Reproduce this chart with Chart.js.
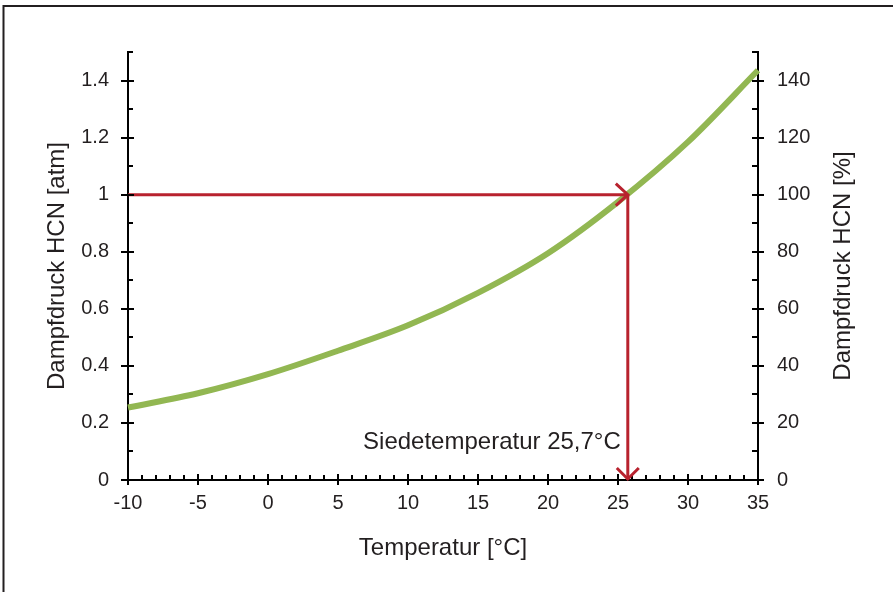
<!DOCTYPE html>
<html lang="de">
<head>
<meta charset="utf-8">
<title>Dampfdruck HCN</title>
<script src="https://cdn.jsdelivr.net/npm/chart.js@4.4.1/dist/chart.umd.min.js"></script>
<style>
  html, body { margin: 0; padding: 0; background: #fff; }
  canvas { display: block; }
</style>
</head>
<body>
<canvas id="myChart" width="893" height="592"></canvas>
<script>
// Daten
const temperaturen = [-10, -5, 0, 5, 10, 15, 20, 25, 30, 35];
const dampfdruck = [0.254, 0.304, 0.371, 0.453, 0.542, 0.656, 0.795, 0.975, 1.185, 1.436];

const siedetemperatur = 25.7;
const siedeText = "Siedetemperatur 25,7°C";

const xTicks = [-10, -5, 0, 5, 10, 15, 20, 25, 30, 35];
const yTicksAtm = [0, 0.2, 0.4, 0.6, 0.8, 1, 1.2, 1.4];
const yTicksProzent = [0, 20, 40, 60, 80, 100, 120, 140];

const textFarbe = "#231f20";
const gruen = "#92b752";
const rot = "#b8222e";
const schrift = "'Liberation Sans', Arial, sans-serif";

// Rahmen, Tickmarks, Pfeilspitzen und Texte
const extras = {
    id: "extras",
    beforeDraw(chart) {
        const ctx = chart.ctx;
        ctx.save();
        ctx.strokeStyle = textFarbe;
        ctx.lineWidth = 2;
        ctx.beginPath();
        ctx.moveTo(3.5, 592);
        ctx.lineTo(3.5, 6);
        ctx.lineTo(893, 6);
        ctx.stroke();
        ctx.restore();
    },
    afterDraw(chart) {
        const ctx = chart.ctx;
        const x = chart.scales.x;
        const y = chart.scales.y;
        const y2 = chart.scales.y2;
        const area = chart.chartArea;
        ctx.save();
        ctx.strokeStyle = "#000";
        ctx.lineWidth = 2;
        ctx.beginPath();
        // x-Achse: kleine Ticks je 1, große je 5
        for (let v = -10; v <= 35; v++) {
            const px = Math.round(x.getPixelForValue(v));
            if (v % 5 === 0) {
                ctx.moveTo(px, area.bottom - 6);
                ctx.lineTo(px, area.bottom + 5);
            } else {
                ctx.moveTo(px, area.bottom - 5);
                ctx.lineTo(px, area.bottom);
            }
        }
        // linke Achse
        for (let i = 0; i <= 15; i++) {
            const py = Math.round(y.getPixelForValue(i / 10));
            if (i % 2 === 0 && i < 15) {
                ctx.moveTo(area.left - 7, py);
                ctx.lineTo(area.left + 6, py);
            } else {
                ctx.moveTo(area.left, py);
                ctx.lineTo(area.left + 5, py);
            }
        }
        // rechte Achse
        for (let i = 0; i <= 150; i += 10) {
            const py = Math.round(y2.getPixelForValue(i));
            if (i % 20 === 0 && i < 150) {
                ctx.moveTo(area.right - 6, py);
                ctx.lineTo(area.right + 6, py);
            } else {
                ctx.moveTo(area.right - 6, py);
                ctx.lineTo(area.right, py);
            }
        }
        ctx.stroke();

        // Pfeilspitzen
        const sx = x.getPixelForValue(siedetemperatur);
        const sy = y.getPixelForValue(1);
        const by = y.getPixelForValue(0);
        ctx.strokeStyle = rot;
        ctx.lineWidth = 3;
        ctx.beginPath();
        ctx.moveTo(sx - 12, sy - 11);
        ctx.lineTo(sx, sy);
        ctx.lineTo(sx - 12, sy + 11);
        ctx.moveTo(sx - 11, by - 12);
        ctx.lineTo(sx, by - 1);
        ctx.lineTo(sx + 11, by - 12);
        ctx.stroke();

        // Beschriftung Siedetemperatur
        ctx.fillStyle = textFarbe;
        ctx.font = "24px " + schrift;
        ctx.textAlign = "right";
        ctx.textBaseline = "alphabetic";
        ctx.fillText(siedeText, sx - 7, y.getPixelForValue(0.11));

        // rechter Achsentitel (von unten nach oben)
        ctx.translate(843, (area.top + area.bottom) / 2);
        ctx.rotate(-Math.PI / 2);
        ctx.textAlign = "center";
        ctx.textBaseline = "middle";
        ctx.fillText("Dampfdruck HCN [%]", 0, 0);
        ctx.restore();
    }
};

function fmt(v) {
    return String(+v.toFixed(1));
}

const config = {
    type: "line",
    data: {
        datasets: [
            {
                label: "Pfeil waagrecht",
                data: [{ x: -10, y: 1 }, { x: siedetemperatur, y: 1 }],
                borderColor: rot,
                borderWidth: 3,
                pointRadius: 0,
                order: 0
            },
            {
                label: "Pfeil senkrecht",
                data: [{ x: siedetemperatur, y: 1 }, { x: siedetemperatur, y: 0 }],
                borderColor: rot,
                borderWidth: 3,
                pointRadius: 0,
                order: 0
            },
            {
                label: "Dampfdruck HCN",
                data: temperaturen.map((t, i) => ({ x: t, y: dampfdruck[i] })),
                borderColor: gruen,
                borderWidth: 6,
                pointRadius: 0,
                cubicInterpolationMode: "monotone",
                order: 1
            }
        ]
    },
    options: {
        responsive: false,
        animation: false,
        clip: false,
        layout: { padding: { top: 52, left: 0, right: 0, bottom: 0 } },
        plugins: {
            legend: { display: false },
            tooltip: { enabled: false }
        },
        scales: {
            x: {
                type: "linear",
                min: -10,
                max: 35,
                afterFit: (s) => { s.height = 112; },
                afterBuildTicks: (s) => { s.ticks = xTicks.map((v) => ({ value: v })); },
                grid: { display: false, drawTicks: false },
                border: { display: true, color: "#000", width: 2 },
                ticks: {
                    color: textFarbe,
                    padding: 11,
                    maxRotation: 0,
                    font: { family: schrift, size: 20 },
                    callback: (v) => fmt(v)
                },
                title: {
                    display: true,
                    text: "Temperatur [°C]",
                    color: textFarbe,
                    padding: { top: 0, bottom: 29 },
                    font: { family: schrift, size: 24 }
                }
            },
            y: {
                type: "linear",
                position: "left",
                min: 0,
                max: 1.5,
                afterFit: (s) => { s.width = 128; },
                afterBuildTicks: (s) => { s.ticks = yTicksAtm.map((v) => ({ value: v })); },
                grid: { display: false, drawTicks: false },
                border: { display: true, color: "#000", width: 2 },
                ticks: {
                    color: textFarbe,
                    padding: 19,
                    font: { family: schrift, size: 20 },
                    callback: (v) => fmt(v)
                },
                title: {
                    display: true,
                    text: "Dampfdruck HCN [atm]",
                    color: textFarbe,
                    padding: { top: 43, bottom: 0 },
                    font: { family: schrift, size: 24 }
                }
            },
            y2: {
                type: "linear",
                position: "right",
                min: 0,
                max: 150,
                afterFit: (s) => { s.width = 135; },
                afterBuildTicks: (s) => { s.ticks = yTicksProzent.map((v) => ({ value: v })); },
                grid: { display: false, drawTicks: false },
                border: { display: true, color: "#000", width: 2 },
                ticks: {
                    color: textFarbe,
                    padding: 19,
                    font: { family: schrift, size: 20 },
                    callback: (v) => fmt(v)
                }
            }
        }
    },
    plugins: [extras]
};

new Chart(document.getElementById("myChart"), config);
</script>
</body>
</html>
